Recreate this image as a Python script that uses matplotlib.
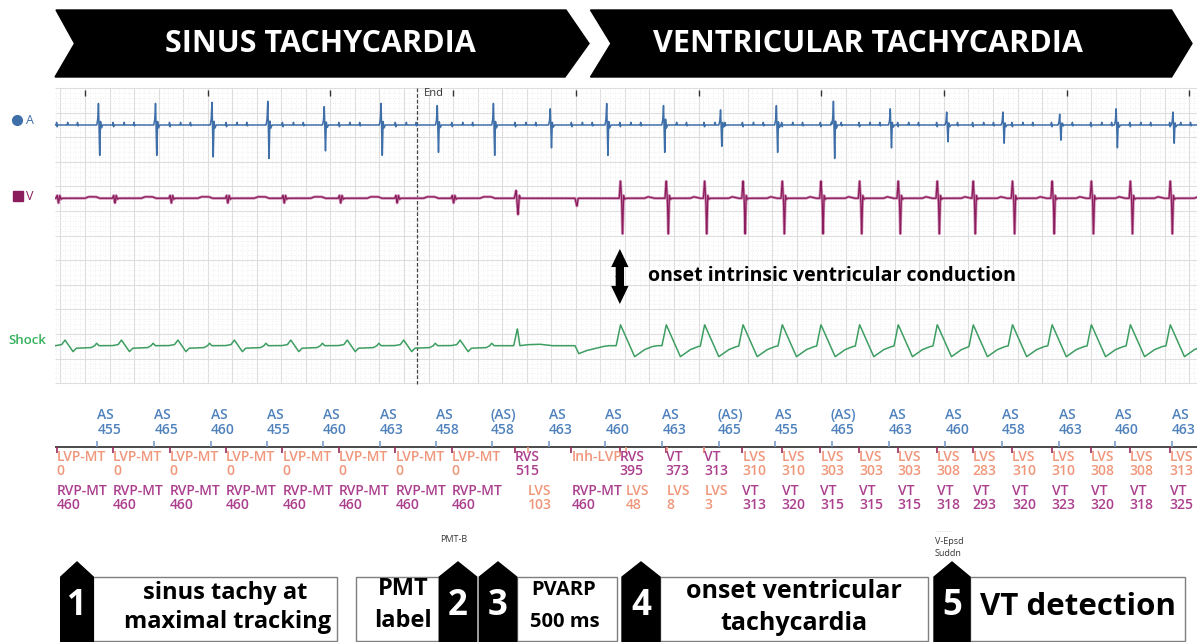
import numpy as np
import matplotlib
matplotlib.use("Agg")
import matplotlib.pyplot as plt
from matplotlib.patches import Polygon, Rectangle

plt.rcParams['font.family'] = ['Open Sans', 'DejaVu Sans']

# ---- data ----
# atrial sensed intervals (ms); True where the marker is "(AS)" (refractory)
as_int = [455, 465, 460, 455, 460, 463, 458, 458, 463, 460,
          463, 465, 455, 465, 463, 460, 458, 463, 460, 463]
as_refr = [False] * 7 + [True] + [False] * 3 + [True, False, True] + [False] * 6
as_amp = [1.0, 1.0, 1.05, 1.1, 0.85, 1.0, 0.9, 1.0, 0.75, 1.0,
          0.9, 0.7, 0.9, 1.1, 0.75, 0.6, 0.6, 0.5, 0.75, 0.6]

# ventricular events: RV interval (ms), upper and lower marker labels
rv_int = [460] * 8 + [515, 460, 395, 373, 313, 313, 320, 315, 315, 315,
                      318, 293, 320, 323, 320, 318, 325]
top_lab = ['LVP-MT'] * 8 + ['RVS', 'Inh-LVP', 'RVS', 'VT', 'VT'] + ['LVS'] * 12
top_val = ['0'] * 8 + ['515', '', '395', '373', '313',
                       '310', '310', '303', '303', '303', '308',
                       '283', '310', '310', '308', '308', '313']
bot_lab = ['RVP-MT'] * 8 + ['LVS', 'RVP-MT', 'LVS', 'LVS', 'LVS'] + ['VT'] * 12
bot_val = ['460'] * 8 + ['103', '460', '48', '8', '3',
                         '313', '320', '315', '315', '315', '318',
                         '293', '320', '323', '320', '318', '325']
lv_delay = [0] * 8 + [103, 0, 48, 8, 3] + [0] * 12
v_kind = ['paced'] * 8 + ['rvs', 'inh'] + ['vt'] * 15

t_as0 = 100      # first AS marker (ms)
t_rv0 = -231     # first RV marker (ms)
t_end = 2706     # "End" line
t_sec = np.arange(0, 9100, 1000)

as_t = t_as0 + np.cumsum(as_int) - as_int[0]
rv_t = t_rv0 + np.cumsum(rv_int) - rv_int[0]
lv_t = rv_t + np.array(lv_delay)

# beat templates: offsets (ms), deflection (px, up positive)
TPL = {
    'a_spike': ([-4, 4, 10, 14, 20, 26, 34, 44], [0, 6, 23, -2, -33, 4, -3, 0]),
    'a_far': ([-4, 0, 4, 8, 86, 90, 94, 166, 170, 174, 178],
              [0, 3, -2, 0, 0, 3, 0, 0, 3, -1, 0]),
    'v_paced': ([-5, 5, 15, 25, 35, 45, 230, 260, 320, 350],
                [0, 3, -5, 3, -1, 0, 0, 1.5, 1.5, 0]),
    'v_rvs': ([-5, 10, 25, 35, 45], [0, 8, -17, 3, 0]),
    'v_inh': ([0, 30, 45, 55], [0, 0, -8, 0]),
    'v_vt': ([-5, 5, 15, 22, 30, 40, 50, 200, 230, 280],
             [0, 18, -2, -38, 3, -1, 0, 0, 1.5, 0]),
    's_paced': ([-10, 40, 68, 133, 160, 280, 310, 325, 345],
                [0, 1, 5.7, -6, -2.5, -2, 0, 2.5, 0]),
    's_rvs': ([-10, 20, 40, 100, 200, 300], [0, 17, 0, 1, 1.5, 0]),
    's_inh': ([0, 30, 60, 120, 250, 300], [0, 0, -8, -5, -1, 0]),
    's_vt': ([-30, 5, 120, 200, 260, 300], [0, 21, -11, -4, -1, 0]),
}

W, H = 1197, 642
X0_PX, T0_PX, PX_MS = 55, 85, 0.1227
t_lo = (X0_PX - T0_PX) / PX_MS
t_hi = (W - T0_PX) / PX_MS

fig = plt.figure(figsize=(W / 100, H / 100), dpi=100)
page = fig.add_axes([0, 0, 1, 1])
page.set_xlim(0, W)
page.set_ylim(H, 0)
page.axis('off')

ax = fig.add_axes([X0_PX / W, 0, 1 - X0_PX / W, 1])
ax.set_xlim(t_lo, t_hi)
ax.set_ylim(H, 0)
ax.axis('off')

# ---- grid ----
g_top, g_bot, g_step = 88, 383.2, 24.6
maj_t = np.arange(-200, t_hi, 200)
min_t = np.array([t for t in range(-240, int(t_hi), 40) if t % 200])
ax.vlines(min_t, g_top, g_bot, color='#ebebeb', lw=0.6, linestyles=(0, (1, 2)), zorder=1)
ax.vlines(maj_t, g_top, g_bot, color='#dedede', lw=0.8, zorder=1)
maj_y = g_top + g_step * np.arange(13)
min_y = np.array([g_top + g_step / 5 * k for k in range(61) if k % 5])
ax.hlines(min_y, t_lo, t_hi, color='#ebebeb', lw=0.6, linestyles=(0, (1, 2)), zorder=1)
ax.hlines(maj_y, t_lo, t_hi, color='#dedede', lw=0.8, zorder=1)

ax.vlines(t_sec, 89.5, 95.5, color='#333333', lw=1, zorder=3)
ax.vlines(t_end, g_top, g_bot + 1, color='#444444', lw=0.9, linestyles=(0, (3, 1.5)), zorder=3)
ax.annotate('End', xy=(t_end, 93), xytext=(5, 0), textcoords='offset points',
            fontsize=8, color='#333333', va='center', ha='left')

# ---- traces ----
t = np.arange(t_lo, t_hi, 1.0)


def beats(times, kinds, prefix, scale=None):
    sig = np.zeros_like(t)
    for i, tb in enumerate(times):
        off, amp = TPL[prefix + kinds[i]]
        k = 1.0 if scale is None else scale[i]
        sig += k * np.interp(t - tb, off, amp, left=0, right=0)
    return sig


sig_a = beats(as_t, ['spike'] * len(as_t), 'a_', as_amp) + beats(rv_t, ['far'] * len(rv_t), 'a_')
sig_v = beats(rv_t, v_kind, 'v_')
sig_s = beats(rv_t, v_kind, 's_')

ax.plot(t, 125 - sig_a, color='#3f6fa8', lw=1.1, zorder=4)
ax.plot(t, 198.3 - sig_v, color='#cf8fb6', lw=2.0, zorder=4)
ax.plot(t, 198.3 - sig_v, color='#8b1d5c', lw=0.9, zorder=4)
ax.plot(t, 345.7 - sig_s, color='#3e9e62', lw=1.1, zorder=4)

# channel labels
page.plot(17, 120, 'o', color='#3f6fa8', ms=7)
page.text(26, 120, 'A', color='#3f6fa8', fontsize=9, va='center')
page.plot(18, 196, 's', color='#8b1d5c', ms=7)
page.text(26, 196, 'V', color='#8b1d5c', fontsize=9, va='center')
page.text(8, 341, 'Shock', color='#33b05a', fontsize=9.5, va='center', weight='semibold')

# ---- marker channel ----
C_AS, C_LV, C_RV = '#4f81bd', '#f0967a', '#ab3f8d'
lab_col = {'LVP-MT': C_LV, 'LVS': C_LV, 'Inh-LVP': C_LV,
           'RVP-MT': C_RV, 'RVS': C_RV, 'VT': C_RV}
ax.hlines(447, t_lo, t_hi, color='#3c3c3c', lw=1.3, zorder=3)
ax.vlines(as_t, 441, 447, color='#6f95c6', lw=1.1, zorder=3)
ax.vlines(rv_t, 447, 453, color='#9a2b5e', lw=1.2, zorder=3)
ax.vlines(lv_t[np.array(lv_delay) > 0], 447, 453, color='#ee9a80', lw=1.2, zorder=3)

mk = dict(fontsize=10, weight='semibold', ha='left', va='center')
for i, ta in enumerate(as_t):
    x = ta - 15 if as_refr[i] else ta
    ax.text(x, 415, '(AS)' if as_refr[i] else 'AS', color=C_AS, **mk)
    ax.text(x, 430, str(as_int[i]), color=C_AS, **mk)
for i in range(len(rv_t)):
    ax.text(rv_t[i], 457, top_lab[i], color=lab_col[top_lab[i]], **mk)
    ax.text(rv_t[i], 471, top_val[i], color=lab_col[top_lab[i]], **mk)
    ax.text(lv_t[i], 491, bot_lab[i], color=lab_col[bot_lab[i]], **mk)
    ax.text(lv_t[i], 505, bot_val[i], color=lab_col[bot_lab[i]], **mk)

# onset of intrinsic conduction
t_on = rv_t[10]
arr = dict(arrowstyle='simple,head_length=1.3,head_width=1.25,tail_width=0.6',
           color='black', lw=0, mutation_scale=10, shrinkA=0, shrinkB=0)
ax.annotate('', xy=(t_on, 249), xytext=(t_on, 277), arrowprops=arr)
ax.annotate('', xy=(t_on, 304), xytext=(t_on, 276), arrowprops=arr)
ax.annotate('onset intrinsic ventricular conduction', xy=(t_on, 276), xytext=(20, 0),
            textcoords='offset points', fontsize=14, weight='bold', va='center', ha='left')

# ---- banners ----
page.add_patch(Polygon([(56, 10), (566, 10), (589, 43.5), (565, 77), (55, 77), (74.6, 43.5)],
                       closed=True, color='black'))
page.add_patch(Polygon([(590.5, 10), (1171.6, 10), (1192, 43.5), (1171.6, 77), (590.5, 77), (611, 43.5)],
                       closed=True, color='black'))
page.text(320.5, 44, 'SINUS TACHYCARDIA', color='white', fontsize=22, weight='bold',
          ha='center', va='center')
page.text(867.5, 44, 'VENTRICULAR TACHYCARDIA', color='white', fontsize=22, weight='bold',
          ha='center', va='center')

# ---- numbered boxes ----
boxes = [(93.3, 336.7), (356, 439.3), (516.7, 617.3), (660, 928), (970, 1184.5)]
for x0, x1 in boxes:
    page.add_patch(Rectangle((x0, 577), x1 - x0, 64, facecolor='white',
                             edgecolor='#7f7f7f', lw=1))
cols = [(60.7, 93.3), (439.3, 476.7), (479.3, 516.7), (622, 660), (934, 970)]
for n, (x0, x1) in enumerate(cols, start=1):
    xm = (x0 + x1) / 2
    page.add_patch(Polygon([(x0, 645), (x0, 577), (xm, 562), (x1, 577), (x1, 645)],
                           closed=True, color='black'))
    page.text(xm, 606, str(n), color='white', fontsize=25, weight='bold',
              ha='center', va='center')

bx = dict(weight='bold', ha='center', va='center')
page.text(225, 593, 'sinus tachy at', fontsize=17, **bx)
page.text(228, 622, 'maximal tracking', fontsize=17, **bx)
page.text(403, 589, 'PMT', fontsize=17, **bx)
page.text(403, 621, 'label', fontsize=17, **bx)
page.text(564, 590, 'PVARP', fontsize=14.5, **bx)
page.text(565, 622, '500 ms', fontsize=14.5, **bx)
page.text(794, 592, 'onset ventricular', fontsize=18, **bx)
page.text(794, 624, 'tachycardia', fontsize=18, **bx)
page.text(1078, 607, 'VT detection', fontsize=22.5, **bx)

page.text(440, 540, 'PMT-B', fontsize=6.5, color='#333333', va='center')
page.text(935, 530, '........', fontsize=6, color='#cccccc', va='center')
page.text(935, 541, 'V-Epsd', fontsize=6.5, color='#333333', va='center')
page.text(935, 553, 'Suddn', fontsize=6.5, color='#333333', va='center')

fig.savefig('out.png', dpi=100)
